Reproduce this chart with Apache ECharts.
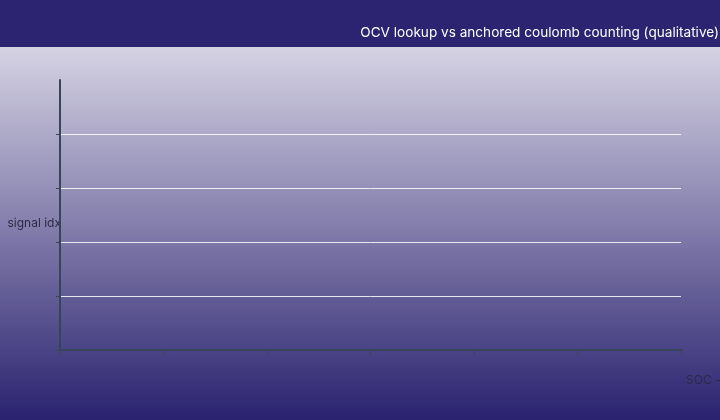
<!DOCTYPE html>
<html>
<head>
<meta charset="utf-8">
<script src="https://cdn.jsdelivr.net/npm/echarts@6/dist/echarts.min.js"></script>
<style>
  html, body { margin: 0; padding: 0; }
  #chart { width: 720px; height: 420px; }
</style>
</head>
<body>
<div id="chart"></div>
<script>
// axis categories (no labels shown in the reference)
const socTicks = ['0', '1', '2', '3', '4', '5', '6'];
const signalIdx = ['0', '1', '2', '3', '4', '5'];
// the reference draws no visible series
const ocvLookup = [];
const coulombCount = [];

const chart = echarts.init(document.getElementById('chart'));

chart.setOption({
    backgroundColor: {
        type: 'linear', x: 0, y: 0, x2: 0, y2: 1,
        colorStops: [
            { offset: 0, color: '#ebe9f2' },
            { offset: 1, color: '#2a226f' }
        ]
    },
    graphic: [{
        type: 'rect',
        left: 0, top: 0, z: 0,
        shape: { width: 720, height: 47 },
        style: { fill: '#2c2470' }
    }],
    title: {
        text: 'OCV lookup vs anchored coulomb counting (qualitative)',
        right: -4,
        top: 21,
        textStyle: { color: '#ffffff', fontSize: 13.6, fontWeight: 'normal', fontFamily: 'Inter' }
    },
    grid: { left: 60, right: 39, top: 80, bottom: 70, containLabel: false, outerBoundsMode: 'none' },
    xAxis: {
        type: 'category',
        data: socTicks,
        boundaryGap: false,
        name: 'SOC ->',
        nameLocation: 'end',
        nameGap: 5,
        nameTextStyle: { color: '#2b2b48', fontSize: 12, fontFamily: 'Inter', verticalAlign: 'top', padding: [24, 0, 0, 0] },
        axisLine: { lineStyle: { color: '#37445a', width: 2 } },
        axisTick: { show: true, interval: 0, length: 5, lineStyle: { color: '#37445a', width: 1 } },
        axisLabel: { show: false },
        splitLine: { show: false }
    },
    yAxis: {
        type: 'category',
        data: signalIdx,
        boundaryGap: false,
        name: 'signal idx',
        nameLocation: 'middle',
        nameRotate: 0,
        nameGap: -1,
        nameTextStyle: { color: '#2b2b48', fontSize: 12, fontFamily: 'Inter', align: 'right', verticalAlign: 'top', padding: [2, 0, 0, 0] },
        axisLine: { lineStyle: { color: '#37445a', width: 2 } },
        axisTick: { show: true, length: 4, interval: (i) => i !== signalIdx.length - 1, lineStyle: { color: '#37445a', width: 1 } },
        axisLabel: { show: false },
        splitLine: {
            show: true,
            interval: (i) => i !== 0 && i !== signalIdx.length - 1,
            lineStyle: { color: 'rgba(255,255,255,0.85)', width: 1 }
        }
    },
    series: [
        { name: 'OCV lookup', type: 'line', data: ocvLookup },
        { name: 'anchored coulomb counting', type: 'line', data: coulombCount }
    ]
});
</script>
</body>
</html>
